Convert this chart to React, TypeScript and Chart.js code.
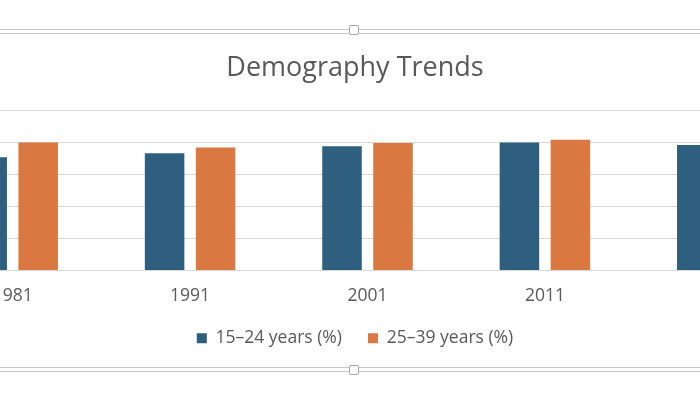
import React, { useEffect, useRef } from "react";
import { Chart, registerables } from "chart.js";

Chart.register(...registerables);

const categories = ["1981", "1991", "2001", "2011", "2021"];
const youth = [17.7, 18.3, 19.4, 20.0, 19.6];
const adults = [20.0, 19.2, 19.9, 20.4, 20.0];
const seriesNames = ["15–24 years (%)", "25–39 years (%)"];
const yMin = 0;
const yMax = 25;
const yStep = 5;

const BLUE = "#2e5f7f";
const ORANGE = "#d97840";
const TEXT = "#595959";
const GRID = "#d9d9d9";
const FONT = '"Open Sans", "DejaVu Sans", sans-serif';

export default function App() {
  const ref = useRef<HTMLCanvasElement | null>(null);

  useEffect(() => {
    if (!ref.current) return;
    const chart = new Chart(ref.current, {
      type: "bar",
      data: {
        labels: categories,
        datasets: [
          { label: seriesNames[0], data: youth, backgroundColor: BLUE },
          { label: seriesNames[1], data: adults, backgroundColor: ORANGE },
        ],
      },
      options: {
        animation: false,
        responsive: false,
        maintainAspectRatio: false,
        layout: { padding: { left: 0, right: 0, top: 18, bottom: 10 } },
        datasets: {
          bar: { categoryPercentage: 0.575, barPercentage: 0.775 },
        },
        plugins: {
          title: {
            display: true,
            text: "Demography Trends",
            color: TEXT,
            font: { family: FONT, size: 27, weight: "normal" },
            padding: { top: 0, bottom: 26 },
          },
          legend: {
            position: "bottom",
            labels: {
              color: TEXT,
              font: { family: FONT, size: 17.5 },
              boxWidth: 10,
              boxHeight: 10,
              padding: 26,
            },
          },
          tooltip: { enabled: false },
        },
        scales: {
          x: {
            grid: { display: false, drawTicks: false },
            border: { display: true, color: GRID },
            ticks: { color: TEXT, font: { family: FONT, size: 17.5 }, padding: 15 },
            afterFit: (scale: any) => {
              scale.height -= 18;
            },
          },
          y: {
            min: yMin,
            max: yMax,
            ticks: { display: false, stepSize: yStep },
            grid: { color: GRID, drawTicks: false },
            border: { display: false },
            afterFit: (scale: any) => {
              scale.width = 25;
            },
          },
        },
      },
    });
    return () => chart.destroy();
  }, []);

  const line = (top: number): React.CSSProperties => ({
    position: "absolute",
    left: 0,
    width: 700,
    top,
    height: 1,
    background: "#c9c9c9",
  });
  const handle = (top: number): React.CSSProperties => ({
    position: "absolute",
    left: 349,
    top,
    width: 8,
    height: 8,
    background: "#fff",
    border: "1px solid #a6a6a6",
    borderRadius: 2,
  });

  return (
    <div
      style={{
        position: "fixed",
        left: 0,
        top: 0,
        width: 700,
        height: 394,
        overflow: "hidden",
        background: "#fff",
      }}
    >
      <div style={{ position: "absolute", left: -101, top: 34, width: 912, height: 333 }}>
        <canvas ref={ref} width={912} height={333} style={{ display: "block" }} />
      </div>
      <div style={line(29)} />
      <div style={line(33)} />
      <div style={line(367)} />
      <div style={line(371)} />
      <div style={handle(25)} />
      <div style={handle(365)} />
    </div>
  );
}
